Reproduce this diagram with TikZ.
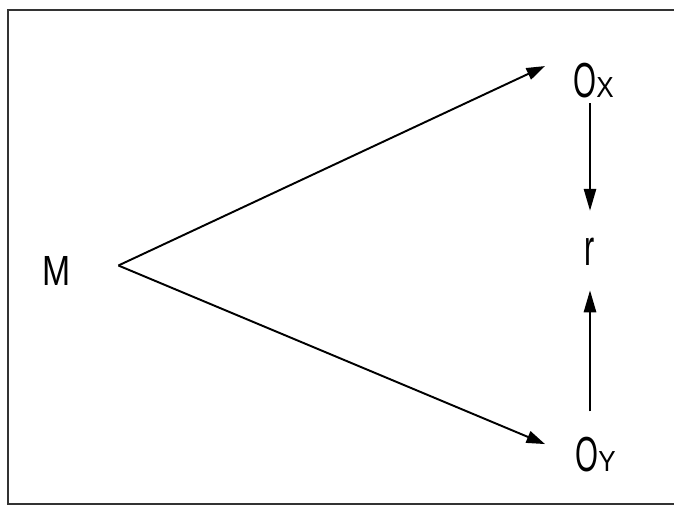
\documentclass[tikz,border=0pt]{standalone}
\usepackage{fontspec}
\setmainfont{Liberation Sans}
\usetikzlibrary{arrows.meta,positioning,calc}
\definecolor{framegray}{HTML}{333333}
\tikzset{
  arr/.style={line width=1.1pt, -{Triangle[length=10.5pt,width=7pt]}},
  varr/.style={line width=1.1pt, -{Triangle[length=12.5pt,width=7pt]}},
}

\begin{document}
\begin{tikzpicture}
\useasboundingbox (0,0) rectangle (13.48,10.12);
% frame (open at the right)
\draw[framegray, line width=1.6pt] (13.48,9.92) -- (0.16,9.92) -- (0.16,0.04) -- (13.48,0.04);
% labels
\node[inner sep=0, anchor=base] (m) at (1.14,4.42) {\scalebox{0.8}[1]{\fontsize{24}{26}\selectfont M}};
\node[inner sep=0, anchor=base west] (ox) at (11.46,8.18) {\scalebox{0.6}[1]{\fontsize{28}{30}\selectfont O}\scalebox{0.9}[1]{\fontsize{16.5}{18}\selectfont X}};
\node[inner sep=0, anchor=base west] (oy) at (11.5,0.70) {\scalebox{0.6}[1]{\fontsize{28}{30}\selectfont O}\scalebox{0.9}[1]{\fontsize{16.5}{18}\selectfont Y}};
\node[inner sep=0, anchor=base] (r) at (11.8,4.82) {\scalebox{0.6}[1]{\fontsize{29}{31}\selectfont r}};
% arrows
\draw[arr] ([shift={(0.94,0.1)}]m.east) -- ([shift={(-0.56,0.28)}]ox.west);
\draw[arr] ([shift={(0.94,0.1)}]m.east) -- ([shift={(-0.6,0.2)}]oy.west);
\draw[varr, shorten <=0.11cm, shorten >=0.53cm] (ox.south -| r.north) -- (r.north);
\draw[varr, shorten <=0.5cm, shorten >=0.5cm] (oy.north -| r.south) -- (r.south);
\end{tikzpicture}
\end{document}
